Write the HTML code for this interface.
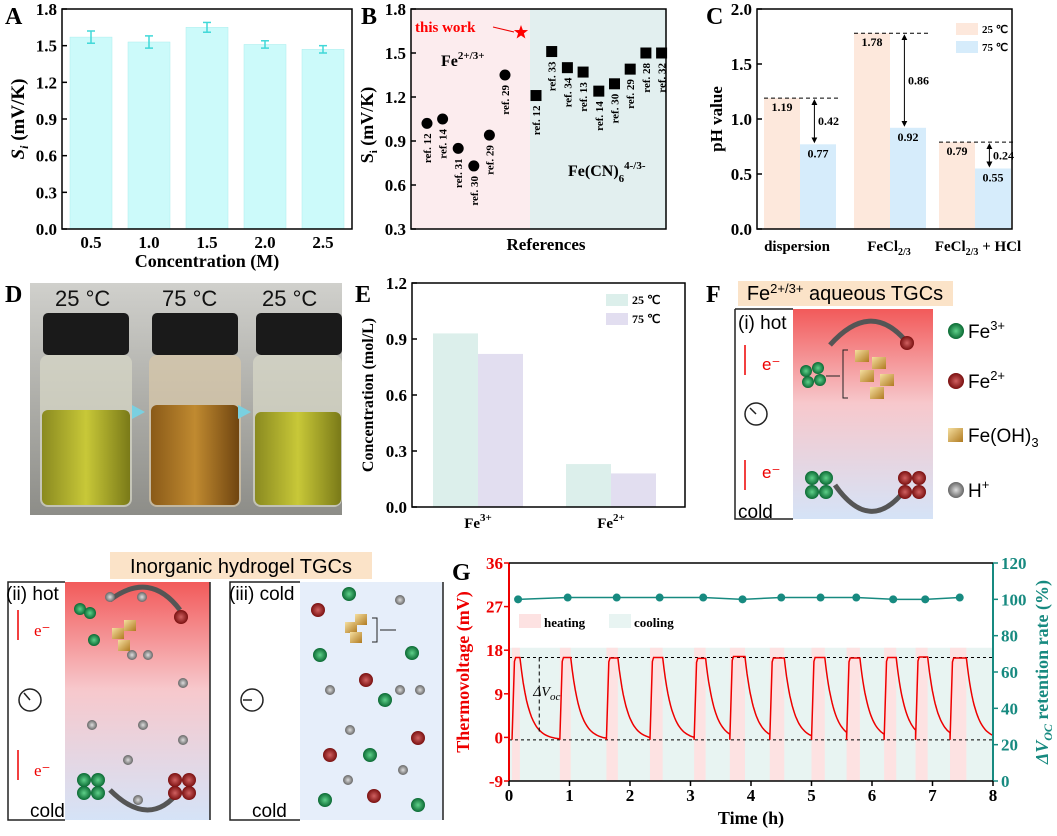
<!DOCTYPE html>
<html><head><meta charset="utf-8"><style>
body{margin:0;background:#fff;width:1057px;height:831px;overflow:hidden;font-family:"Liberation Serif",serif}
svg text{font-family:"Liberation Serif",serif}
</style></head><body>
<svg id="s" width="1057" height="831" xmlns="http://www.w3.org/2000/svg">
<defs>
<linearGradient id="rb" x1="0" y1="0" x2="0" y2="1"><stop offset="0" stop-color="#f25a5a"/><stop offset="0.45" stop-color="#f7c8cc"/><stop offset="1" stop-color="#d5e3f7"/></linearGradient>
<linearGradient id="vial1" x1="0" y1="0" x2="1" y2="0"><stop offset="0" stop-color="#8a8a20"/><stop offset="0.5" stop-color="#c8c838"/><stop offset="1" stop-color="#7a7a18"/></linearGradient>
<linearGradient id="vial2" x1="0" y1="0" x2="1" y2="0"><stop offset="0" stop-color="#8a5a18"/><stop offset="0.5" stop-color="#c08a30"/><stop offset="1" stop-color="#704510"/></linearGradient>
<linearGradient id="bg" x1="0" y1="0" x2="0" y2="1"><stop offset="0" stop-color="#d0d0cc"/><stop offset="0.4" stop-color="#b5b5b0"/><stop offset="1" stop-color="#8d8d88"/></linearGradient>
<radialGradient id="gr"><stop offset="0" stop-color="#5fd08a"/><stop offset="1" stop-color="#0b6a34"/></radialGradient>
<radialGradient id="rd"><stop offset="0" stop-color="#d06060"/><stop offset="1" stop-color="#7a1010"/></radialGradient>
<radialGradient id="gy"><stop offset="0" stop-color="#ddd"/><stop offset="1" stop-color="#666"/></radialGradient>
<linearGradient id="cube" x1="0" y1="0" x2="1" y2="1"><stop offset="0" stop-color="#f5dfa0"/><stop offset="1" stop-color="#b07a20"/></linearGradient>
<marker id="ah" markerWidth="6" markerHeight="6" refX="3" refY="3" orient="auto-start-reverse"><path d="M0,0 L6,3 L0,6 z" fill="#000"/></marker>
</defs>
<g id="A"></g>
<g id="B"></g>
<g id="C"></g>
<g id="D">
<text x="5" y="302" font-size="24" font-weight="bold">D</text>
<rect x="30" y="283" width="312" height="232" fill="url(#bg)"/>
<g><rect x="43" y="313" width="86" height="42" rx="5" fill="#1a1a1a"/><rect x="40" y="355" width="92" height="152" rx="8" fill="#d8d8c8" opacity="0.7"/><rect x="42" y="410" width="88" height="95" rx="6" fill="url(#vial1)"/></g>
<g><rect x="152" y="313" width="86" height="42" rx="5" fill="#1a1a1a"/><rect x="149" y="355" width="92" height="152" rx="8" fill="#d8c8a8" opacity="0.7"/><rect x="151" y="405" width="88" height="100" rx="6" fill="url(#vial2)"/></g>
<g><rect x="256" y="313" width="86" height="42" rx="5" fill="#1a1a1a"/><rect x="253" y="355" width="89" height="152" rx="8" fill="#d8d8c8" opacity="0.7"/><rect x="255" y="412" width="86" height="93" rx="6" fill="url(#vial1)"/></g>
<polygon points="132,405 145,412 132,419" fill="#7ad0e0"/><polygon points="238,405 251,412 238,419" fill="#7ad0e0"/>
<text x="55" y="306" font-size="22" fill="#111" style="font-family:'Liberation Sans'">25 °C</text>
<text x="162" y="306" font-size="22" fill="#111" style="font-family:'Liberation Sans'">75 °C</text>
<text x="262" y="306" font-size="22" fill="#111" style="font-family:'Liberation Sans'">25 °C</text>
</g>
<g id="E"></g>
<g id="F">
<text x="706" y="302" font-size="24" font-weight="bold">F</text>
<rect x="738" y="281" width="215" height="25" fill="#fbe3c8"/>
<text x="845" y="300" font-size="20" text-anchor="middle" style="font-family:'Liberation Sans'">Fe<tspan dy="-7" font-size="13">2+/3+</tspan><tspan dy="7"> aqueous TGCs</tspan></text>
<rect x="793" y="309" width="140" height="210" fill="url(#rb)"/>
<path d="M735,309 H793 M735,309 V519 H793" fill="none" stroke="#222" stroke-width="1.5"/>
<text x="738" y="329" font-size="19" style="font-family:'Liberation Sans'">(i) hot</text>
<text x="738" y="518" font-size="19" style="font-family:'Liberation Sans'">cold</text>
<circle cx="756" cy="414" r="11" fill="#fff" stroke="#222" stroke-width="1.5"/><line x1="756" y1="414" x2="750" y2="408" stroke="#222" stroke-width="1.5"/>
<line x1="745" y1="375" x2="745" y2="345" stroke="#e00" stroke-width="1.5"/><text x="762" y="370" font-size="17" fill="#e00" style="font-family:'Liberation Sans'">e⁻</text>
<line x1="745" y1="490" x2="745" y2="460" stroke="#e00" stroke-width="1.5"/><text x="762" y="478" font-size="17" fill="#e00" style="font-family:'Liberation Sans'">e⁻</text>
<path d="M830,345 Q870,300 905,340" fill="none" stroke="#555" stroke-width="5"/><path d="M835,485 Q870,535 905,490" fill="none" stroke="#555" stroke-width="5"/>
<circle cx="806" cy="371" r="6" fill="url(#gr)"/><circle cx="818" cy="368" r="6" fill="url(#gr)"/><circle cx="808" cy="382" r="6" fill="url(#gr)"/><circle cx="820" cy="380" r="6" fill="url(#gr)"/>
<circle cx="907" cy="343" r="7" fill="url(#rd)"/>
<rect x="855" y="350" width="14" height="12" fill="url(#cube)"/><rect x="872" y="357" width="14" height="12" fill="url(#cube)"/><rect x="860" y="370" width="14" height="12" fill="url(#cube)"/><rect x="880" y="374" width="14" height="12" fill="url(#cube)"/><rect x="870" y="387" width="14" height="12" fill="url(#cube)"/>
<path d="M848,350 H843 V398 H848" fill="none" stroke="#222"/><line x1="826" y1="376" x2="840" y2="376" stroke="#222"/>
<circle cx="812" cy="478" r="7" fill="url(#gr)"/><circle cx="826" cy="478" r="7" fill="url(#gr)"/><circle cx="812" cy="492" r="7" fill="url(#gr)"/><circle cx="826" cy="492" r="7" fill="url(#gr)"/>
<circle cx="905" cy="478" r="7" fill="url(#rd)"/><circle cx="919" cy="478" r="7" fill="url(#rd)"/><circle cx="905" cy="492" r="7" fill="url(#rd)"/><circle cx="919" cy="492" r="7" fill="url(#rd)"/>
<g font-size="19">
<circle cx="956" cy="331" r="8" fill="url(#gr)"/><text x="968" y="338" style="font-family:'Liberation Sans'">Fe<tspan dy="-8" font-size="13">3+</tspan></text>
<circle cx="956" cy="381" r="8" fill="url(#rd)"/><text x="968" y="388" style="font-family:'Liberation Sans'">Fe<tspan dy="-8" font-size="13">2+</tspan></text>
<rect x="948" y="428" width="15" height="14" fill="url(#cube)"/><text x="968" y="442" style="font-family:'Liberation Sans'">Fe(OH)<tspan dy="5" font-size="13">3</tspan></text>
<circle cx="956" cy="490" r="8" fill="url(#gy)"/><text x="968" y="497" style="font-family:'Liberation Sans'">H<tspan dy="-8" font-size="13">+</tspan></text>
</g></g>
<g id="H">
<rect x="110" y="552" width="262" height="27" fill="#fbe3c8"/>
<text x="241" y="573" font-size="20" text-anchor="middle" style="font-family:'Liberation Sans'">Inorganic hydrogel TGCs</text>
<rect x="65" y="582" width="145" height="238" fill="url(#rb)"/>
<path d="M65,582 H8 V820 H65" fill="none" stroke="#222" stroke-width="1.5"/><line x1="210" y1="582" x2="210" y2="820" stroke="#222" stroke-width="1.5"/>
<text x="6" y="600" font-size="19" style="font-family:'Liberation Sans'">(ii) hot</text><text x="30" y="817" font-size="19" style="font-family:'Liberation Sans'">cold</text>
<circle cx="30" cy="700" r="11" fill="#fff" stroke="#222" stroke-width="1.5"/><line x1="30" y1="700" x2="24" y2="693" stroke="#222" stroke-width="1.5"/>
<line x1="18" y1="640" x2="18" y2="610" stroke="#e00" stroke-width="1.5"/><text x="34" y="636" font-size="17" fill="#e00">e⁻</text>
<line x1="18" y1="780" x2="18" y2="750" stroke="#e00" stroke-width="1.5"/><text x="34" y="776" font-size="17" fill="#e00">e⁻</text>
<path d="M110,600 Q150,570 180,610" fill="none" stroke="#555" stroke-width="5"/><path d="M110,790 Q150,830 180,790" fill="none" stroke="#555" stroke-width="5"/>
<circle cx="80" cy="609" r="6" fill="url(#gr)"/><circle cx="90" cy="613" r="6" fill="url(#gr)"/><circle cx="94" cy="640" r="6" fill="url(#gr)"/><circle cx="181" cy="617" r="7" fill="url(#rd)"/>
<circle cx="110" cy="597" r="5" fill="url(#gy)"/><circle cx="142" cy="597" r="5" fill="url(#gy)"/><circle cx="132" cy="655" r="5" fill="url(#gy)"/><circle cx="148" cy="655" r="5" fill="url(#gy)"/><circle cx="92" cy="725" r="5" fill="url(#gy)"/><circle cx="143" cy="725" r="5" fill="url(#gy)"/><circle cx="183" cy="683" r="5" fill="url(#gy)"/><circle cx="128" cy="760" r="5" fill="url(#gy)"/><circle cx="183" cy="740" r="5" fill="url(#gy)"/><circle cx="138" cy="800" r="5" fill="url(#gy)"/>
<rect x="112" y="628" width="12" height="11" fill="url(#cube)"/><rect x="124" y="620" width="12" height="11" fill="url(#cube)"/><rect x="118" y="640" width="12" height="11" fill="url(#cube)"/>
<circle cx="84" cy="780" r="7" fill="url(#gr)"/><circle cx="98" cy="780" r="7" fill="url(#gr)"/><circle cx="84" cy="793" r="7" fill="url(#gr)"/><circle cx="98" cy="793" r="7" fill="url(#gr)"/>
<circle cx="175" cy="780" r="7" fill="url(#rd)"/><circle cx="189" cy="780" r="7" fill="url(#rd)"/><circle cx="175" cy="793" r="7" fill="url(#rd)"/><circle cx="189" cy="793" r="7" fill="url(#rd)"/>
<rect x="300" y="582" width="143" height="238" fill="#e6eefa"/>
<path d="M300,582 H230 V820 H300" fill="none" stroke="#222" stroke-width="1.5"/><line x1="443" y1="582" x2="443" y2="820" stroke="#222" stroke-width="1.5"/>
<text x="229" y="600" font-size="19" style="font-family:'Liberation Sans'">(iii) cold</text><text x="252" y="817" font-size="19" style="font-family:'Liberation Sans'">cold</text>
<circle cx="252" cy="700" r="11" fill="#fff" stroke="#222" stroke-width="1.5"/><line x1="252" y1="700" x2="243" y2="700" stroke="#222" stroke-width="1.5"/>
<circle cx="349" cy="594" r="7" fill="url(#gr)"/><circle cx="320" cy="655" r="7" fill="url(#gr)"/><circle cx="412" cy="653" r="7" fill="url(#gr)"/><circle cx="370" cy="755" r="7" fill="url(#gr)"/><circle cx="325" cy="800" r="7" fill="url(#gr)"/><circle cx="418" cy="805" r="7" fill="url(#gr)"/><circle cx="385" cy="700" r="7" fill="url(#gr)"/>
<circle cx="318" cy="610" r="7" fill="url(#rd)"/><circle cx="366" cy="680" r="7" fill="url(#rd)"/><circle cx="330" cy="755" r="7" fill="url(#rd)"/><circle cx="418" cy="738" r="7" fill="url(#rd)"/><circle cx="374" cy="796" r="7" fill="url(#rd)"/>
<circle cx="400" cy="600" r="5" fill="url(#gy)"/><circle cx="330" cy="690" r="5" fill="url(#gy)"/><circle cx="400" cy="690" r="5" fill="url(#gy)"/><circle cx="350" cy="730" r="5" fill="url(#gy)"/><circle cx="348" cy="780" r="5" fill="url(#gy)"/><circle cx="403" cy="770" r="5" fill="url(#gy)"/><circle cx="420" cy="690" r="5" fill="url(#gy)"/>
<rect x="345" y="622" width="12" height="11" fill="url(#cube)"/><rect x="355" y="614" width="12" height="11" fill="url(#cube)"/><rect x="350" y="632" width="12" height="11" fill="url(#cube)"/>
<path d="M372,618 H377 V642 H372" fill="none" stroke="#222"/><line x1="380" y1="630" x2="396" y2="630" stroke="#222"/>
</g>
<g id="G"></g>
</svg>
<script>
const NS="http://www.w3.org/2000/svg";
function el(p,t,a,txt){const e=document.createElementNS(NS,t);for(const k in a)e.setAttribute(k,a[k]);if(txt!==undefined)e.textContent=txt;p.appendChild(e);return e;}
// Panel A data
const aCats=["0.5","1.0","1.5","2.0","2.5"];
const aVals=[1.57,1.53,1.65,1.51,1.47];
const aErr=[0.05,0.05,0.04,0.03,0.03];
const aTicks=[0,0.3,0.6,0.9,1.2,1.5,1.8];
// Panel B data
const bCircleVals=[1.02,1.05,0.85,0.73,0.94,1.35];
const bCircleLabels=["ref. 12","ref. 14","ref. 31","ref. 30","ref. 29","ref. 29"];
const bSquareVals=[1.21,1.51,1.40,1.37,1.24,1.29,1.39,1.50,1.50];
const bSquareLabels=["ref. 12","ref. 33","ref. 34","ref. 13","ref. 14","ref. 30","ref. 29","ref. 28","ref. 32"];
const bThisWork=1.64;
const bTicks=[0.3,0.6,0.9,1.2,1.5,1.8];
// Panel C data
const cCats=["dispersion","FeCl2/3","FeCl2/3 + HCl"];
const c25=[1.19,1.78,0.79];
const c75=[0.77,0.92,0.55];
const cTicks=[0,0.5,1.0,1.5,2.0];
// Panel E data
const eCats=["Fe3+","Fe2+"];
const e25=[0.93,0.23];
const e75=[0.82,0.18];
const eTicks=[0,0.3,0.6,0.9,1.2];
// Panel G data
const gHeatStart=[0.05,0.84,1.61,2.33,3.06,3.65,4.31,5.0,5.58,6.2,6.72,7.29];
const gHeatEnd=[0.18,1.02,1.8,2.54,3.25,3.9,4.55,5.22,5.8,6.4,6.92,7.56];
const gPeak=[16.5,16.5,16.4,16.5,16.3,16.7,16.4,16.5,16.4,16.5,16.6,16.4];
const gRetT=[0.15,0.97,1.78,2.49,3.21,3.86,4.5,5.15,5.74,6.35,6.88,7.45];
const gRet=[100,101,101,101,101,100,101,101,101,100,100,101];
const gXTicks=[0,1,2,3,4,5,6,7,8];
const gLTicks=[-9,0,9,18,27,36];
const gRTicks=[0,20,40,60,80,100,120];

function axisBox(g,x0,y0,x1,y1,yt,ymin,ymax,fmt){
 el(g,'rect',{x:x0,y:y0,width:x1-x0,height:y1-y0,fill:'none',stroke:'#000','stroke-width':1.5});
 const sy=v=>y1-(v-ymin)/(ymax-ymin)*(y1-y0);
 yt.forEach(v=>{el(g,'line',{x1:x0,x2:x0+5,y1:sy(v),y2:sy(v),stroke:'#000','stroke-width':1.5});
 const t=el(g,'text',{x:x0-5,y:sy(v)+6,'font-size':17,'font-weight':'bold','text-anchor':'end'},fmt(v));});
 return sy;}
// A
(function(){const g=document.getElementById('A');
el(g,'text',{x:5,y:24,'font-size':24,'font-weight':'bold'},'A');
const x0=62,x1=352,y0=9,y1=229;
const sy=v=>y1-v/1.8*(y1-y0);
const bw=42,step=(x1-x0)/aCats.length;
aCats.forEach((c,i)=>{const cx=x0+step*(i+0.5);
 const r=el(g,'rect',{x:cx-bw/2,y:sy(aVals[i]),width:bw,height:y1-sy(aVals[i]),fill:'#ccfafa',stroke:'#aee','stroke-width':0.5});
 
 el(g,'line',{x1:cx,x2:cx,y1:sy(aVals[i]+aErr[i]),y2:sy(aVals[i]-aErr[i]),stroke:'#40d8d8','stroke-width':1.5});
 el(g,'line',{x1:cx-4,x2:cx+4,y1:sy(aVals[i]+aErr[i]),y2:sy(aVals[i]+aErr[i]),stroke:'#40d8d8','stroke-width':1.5});
 el(g,'line',{x1:cx-4,x2:cx+4,y1:sy(aVals[i]-aErr[i]),y2:sy(aVals[i]-aErr[i]),stroke:'#40d8d8','stroke-width':1.5});
 el(g,'text',{x:cx,y:y1+19,'font-size':17,'font-weight':'bold','text-anchor':'middle'},c);});
axisBox(g,x0,y0,x1,y1,aTicks,0,1.8,v=>v.toFixed(1));
el(g,'text',{x:207,y:267,'font-size':18,'font-weight':'bold','text-anchor':'middle'},'Concentration (M)');
const t=el(g,'text',{x:0,y:0,'font-size':19,'font-weight':'bold','text-anchor':'middle',transform:'translate(24,119) rotate(-90)'});t.innerHTML='<tspan font-style="italic">S</tspan><tspan font-size="12" dy="4" font-style="italic">i</tspan><tspan dy="-4"> (mV/K)</tspan>';
})();
// B
(function(){const g=document.getElementById('B');
const x0=411,x1=666,y0=9,y1=229,split=530;
el(g,'rect',{x:x0,y:y0,width:split-x0,height:y1-y0,fill:'#fcecee'});
el(g,'rect',{x:split,y:y0,width:x1-split,height:y1-y0,fill:'#e2efef'});
el(g,'text',{x:361,y:24,'font-size':24,'font-weight':'bold'},'B');
const sy=v=>y1-(v-0.3)/1.5*(y1-y0);
const cx0=427,cdx=15.6,sx0=536,sdx=15.7;
bCircleVals.forEach((v,i)=>{const cx=cx0+cdx*i;const c=el(g,'circle',{cx:cx,cy:sy(v),r:5.5,fill:'#000'});
 el(g,'text',{x:0,y:0,'font-size':11,'font-weight':'bold',transform:`translate(${cx+4},${sy(v)+10}) rotate(-90)`,'text-anchor':'end'},bCircleLabels[i]);});
bSquareVals.forEach((v,i)=>{const cx=sx0+sdx*i;const c=el(g,'rect',{x:cx-5.5,y:sy(v)-5.5,width:11,height:11,fill:'#000'});
 el(g,'text',{x:0,y:0,'font-size':11,'font-weight':'bold',transform:`translate(${cx+4},${sy(v)+10}) rotate(-90)`,'text-anchor':'end'},bSquareLabels[i]);});
const sx=521,syy=sy(bThisWork);
let pts=[];for(let k=0;k<10;k++){const r=k%2?3:7.5,a=-Math.PI/2+k*Math.PI/5;pts.push((sx+r*Math.cos(a)).toFixed(1)+','+(syy+r*Math.sin(a)).toFixed(1));}
const st=el(g,'polygon',{points:pts.join(' '),fill:'#f00'});
el(g,'line',{x1:493,y1:27,x2:514,y2:32,stroke:'#e00'});
el(g,'text',{x:415,y:32,'font-size':15,'font-weight':'bold',fill:'#f00'},'this work');
const f=el(g,'text',{x:441,y:66,'font-size':16,'font-weight':'bold'});f.innerHTML='Fe<tspan dy="-7" font-size="11">2+/3+</tspan>';
const f2=el(g,'text',{x:568,y:176,'font-size':16,'font-weight':'bold'});f2.innerHTML='Fe(CN)<tspan dy="6" font-size="11">6</tspan><tspan dy="-13" font-size="11">4-/3-</tspan>';
axisBox(g,x0,y0,x1,y1,bTicks,0.3,1.8,v=>v.toFixed(1));
el(g,'text',{x:546,y:250,'font-size':17,'font-weight':'bold','text-anchor':'middle'},'References');
const t=el(g,'text',{x:0,y:0,'font-size':18,'font-weight':'bold','text-anchor':'middle',transform:'translate(373,125) rotate(-90)'});t.innerHTML='S<tspan font-size="11" dy="4">i</tspan><tspan dy="-4"> (mV/K)</tspan>';
})();
// C
(function(){const g=document.getElementById('C');
el(g,'text',{x:706,y:24,'font-size':24,'font-weight':'bold'},'C');
const x0=757,x1=1012,y0=9,y1=229;const sy=v=>y1-v/2*(y1-y0);
const cxs=[800,890,975],bw=36;
cCats.forEach((c,i)=>{const b1=el(g,'rect',{x:cxs[i]-bw,y:sy(c25[i]),width:bw,height:y1-sy(c25[i]),fill:'#fde8dc'});
 const b2=el(g,'rect',{x:cxs[i],y:sy(c75[i]),width:bw,height:y1-sy(c75[i]),fill:'#d6ecfb'});
 el(g,'line',{x1:cxs[i]-bw,x2:cxs[i]+bw+3,y1:sy(c25[i]),y2:sy(c25[i]),stroke:'#000','stroke-dasharray':'4,3'});
 el(g,'line',{x1:cxs[i]+bw*0.4,x2:cxs[i]+bw*0.4,y1:sy(c25[i])+4,y2:sy(c75[i])-4,stroke:'#000','marker-start':'url(#ah)','marker-end':'url(#ah)'});
 el(g,'text',{x:cxs[i]-bw/2,y:sy(c25[i])+13,'font-size':12,'font-weight':'bold','text-anchor':'middle'},c25[i].toFixed(2));
 el(g,'text',{x:cxs[i]+bw/2,y:sy(c75[i])+13,'font-size':12,'font-weight':'bold','text-anchor':'middle'},c75[i].toFixed(2));
 el(g,'text',{x:cxs[i]+bw*0.5,y:(sy(c25[i])+sy(c75[i]))/2+4,'font-size':12,'font-weight':'bold'},(c25[i]-c75[i]).toFixed(2));});
axisBox(g,x0,y0,x1,y1,cTicks,0,2,v=>v.toFixed(1));
[['dispersion',797],['FeCl<tspan dy="4" font-size="10">2/3</tspan>',889],['FeCl<tspan dy="4" font-size="10">2/3</tspan><tspan dy="-4"> + HCl</tspan>',978]].forEach(a=>{const t=el(g,'text',{x:a[1],y:251,'font-size':15,'font-weight':'bold','text-anchor':'middle'});t.innerHTML=a[0];});
el(g,'rect',{x:956,y:23,width:22,height:12,fill:'#fde8dc'});el(g,'text',{x:982,y:33,'font-size':11,'font-weight':'bold'},'25 ℃');
el(g,'rect',{x:956,y:41,width:22,height:12,fill:'#d6ecfb'});el(g,'text',{x:982,y:51,'font-size':11,'font-weight':'bold'},'75 ℃');
el(g,'text',{x:0,y:0,'font-size':17,'font-weight':'bold','text-anchor':'middle',transform:'translate(722,119) rotate(-90)'},'pH value');
})();
// E
(function(){const g=document.getElementById('E');
el(g,'text',{x:355,y:302,'font-size':24,'font-weight':'bold'},'E');
const x0=412,x1=685,y0=283,y1=507;const sy=v=>y1-v/1.2*(y1-y0);
const cxs=[478,611],bw=45;
eCats.forEach((c,i)=>{const b1=el(g,'rect',{x:cxs[i]-bw,y:sy(e25[i]),width:bw,height:y1-sy(e25[i]),fill:'#dcefeb'});
 const b2=el(g,'rect',{x:cxs[i],y:sy(e75[i]),width:bw,height:y1-sy(e75[i]),fill:'#e2def0'});
 const t=el(g,'text',{x:cxs[i],y:528,'font-size':15,'font-weight':'bold','text-anchor':'middle'});t.innerHTML=c.slice(0,2)+'<tspan dy="-7" font-size="11">'+c.slice(2)+'</tspan>';});
axisBox(g,x0,y0,x1,y1,eTicks,0,1.2,v=>v.toFixed(1));
el(g,'rect',{x:606,y:294,width:22,height:12,fill:'#dcefeb'});el(g,'text',{x:632,y:304,'font-size':12,'font-weight':'bold'},'25 ℃');
el(g,'rect',{x:606,y:313,width:22,height:12,fill:'#e2def0'});el(g,'text',{x:632,y:323,'font-size':12,'font-weight':'bold'},'75 ℃');
el(g,'text',{x:0,y:0,'font-size':16,'font-weight':'bold','text-anchor':'middle',transform:'translate(373,395) rotate(-90)'},'Concentration (mol/L)');
})();
// G
(function(){const g=document.getElementById('G');
el(g,'text',{x:452,y:580,'font-size':24,'font-weight':'bold'},'G');
const x0=509,x1=993,y0=563,y1=781;
const sx=t=>x0+t/8*(x1-x0), sy=v=>y1-(v+9)/45*(y1-y0), sr=v=>y1-v/120*(y1-y0);
const top=sy(18.5);
el(g,'rect',{x:sx(0),y:top,width:sx(8)-sx(0),height:y1-top,fill:'#e8f4f2'});
gHeatStart.forEach((s,i)=>{const r=el(g,'rect',{x:sx(s),y:top,width:sx(gHeatEnd[i])-sx(s),height:y1-top,fill:'#fde2e2'});});
el(g,'line',{x1:x0,x2:x1,y1:sy(16.5),y2:sy(16.5),stroke:'#000','stroke-dasharray':'3,3'});
el(g,'line',{x1:x0,x2:x1,y1:sy(-0.5),y2:sy(-0.5),stroke:'#000','stroke-dasharray':'3,3'});
let d='';
gHeatStart.forEach((s,i)=>{const e=gHeatEnd[i],p=gPeak[i],nx=i+1<gHeatStart.length?gHeatStart[i+1]:8;
 d+=(i?'L':'M')+sx(s)+','+sy(-0.5)+' L'+sx(s+0.04)+','+sy(p*0.95)+' L'+sx(s+0.06)+','+sy(p)+' L'+sx(e)+','+sy(p);
 for(let k=1;k<=24;k++){const t=e+(nx-e)*k/24;const v=-0.5+(p+0.5)*Math.exp(-(t-e)/0.15);d+=' L'+sx(t).toFixed(1)+','+sy(v).toFixed(1);}});
const ln=el(g,'path',{d:d,fill:'none',stroke:'#e00','stroke-width':1.5});
let rd='';gRetT.forEach((t,i)=>{rd+=(i?'L':'M')+sx(t)+','+sr(gRet[i]);});
el(g,'path',{d:rd,fill:'none',stroke:'#178a80','stroke-width':1.5});
gRetT.forEach((t,i)=>{const c=el(g,'circle',{cx:sx(t),cy:sr(gRet[i]),r:4,fill:'#178a80'});});
el(g,'line',{x1:sx(0.5),x2:sx(0.5),y1:sy(16.5),y2:sy(0.8),stroke:'#000','stroke-dasharray':'4,3'});
const dv=el(g,'text',{x:sx(0.4),y:sy(8.5),'font-size':14,'font-style':'italic'});dv.innerHTML='ΔV<tspan dy="4" font-size="11">oc</tspan>';
el(g,'rect',{x:519,y:614,width:22,height:14,fill:'#fde2e2'});el(g,'text',{x:544,y:627,'font-size':13,'font-weight':'bold'},'heating');
el(g,'rect',{x:609,y:614,width:22,height:14,fill:'#e8f4f2'});el(g,'text',{x:634,y:627,'font-size':13,'font-weight':'bold'},'cooling');
el(g,'line',{x1:x0,x2:x0,y1:y0,y2:y1,stroke:'#e00','stroke-width':2});
el(g,'line',{x1:x1,x2:x1,y1:y0,y2:y1,stroke:'#178a80','stroke-width':2});
el(g,'line',{x1:x0,x2:x1,y1:y1,y2:y1,stroke:'#000','stroke-width':1.5});
el(g,'line',{x1:x0,x2:x1,y1:y0,y2:y0,stroke:'#000','stroke-width':1.5});
gLTicks.forEach(v=>{el(g,'line',{x1:x0,x2:x0-5,y1:sy(v),y2:sy(v),stroke:'#e00','stroke-width':1.5});el(g,'text',{x:x0-6,y:sy(v)+6,'font-size':17,'font-weight':'bold',fill:'#e00','text-anchor':'end'},v);});
gRTicks.forEach(v=>{el(g,'line',{x1:x1,x2:x1+5,y1:sr(v),y2:sr(v),stroke:'#178a80','stroke-width':1.5});el(g,'text',{x:x1+8,y:sr(v)+6,'font-size':17,'font-weight':'bold',fill:'#178a80'},v);});
gXTicks.forEach(v=>{el(g,'line',{x1:sx(v),x2:sx(v),y1:y1,y2:y1+5,stroke:'#000','stroke-width':1.5});el(g,'text',{x:sx(v),y:y1+20,'font-size':17,'font-weight':'bold','text-anchor':'middle'},v);});
el(g,'text',{x:751,y:824,'font-size':18,'font-weight':'bold','text-anchor':'middle'},'Time (h)');
el(g,'text',{x:0,y:0,'font-size':18,'font-weight':'bold',fill:'#e00','text-anchor':'middle',transform:'translate(469,672) rotate(-90)'},'Thermovoltage (mV)');
const rt=el(g,'text',{x:0,y:0,'font-size':18,'font-weight':'bold',fill:'#178a80','text-anchor':'middle',transform:'translate(1048,672) rotate(-90)'});rt.innerHTML='<tspan font-style="italic">ΔV</tspan><tspan dy="4" font-size="12" font-style="italic">OC</tspan><tspan dy="-4"> retention rate (%)</tspan>';
})();
</script>
</body></html>
